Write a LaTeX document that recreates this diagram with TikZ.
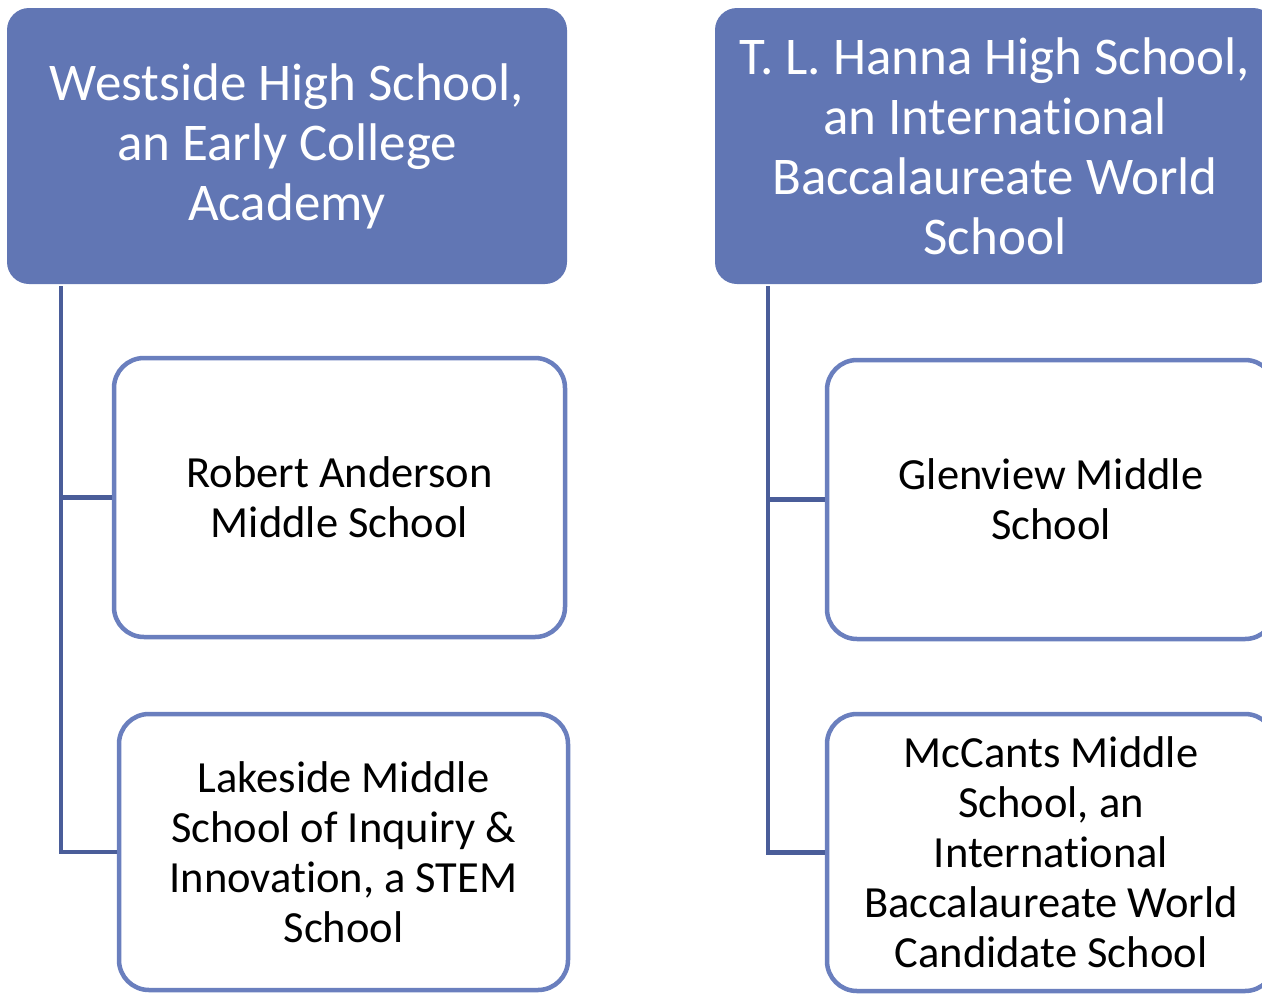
\documentclass[tikz,border=0pt]{standalone}
\usepackage{fontspec}
\setmainfont{Carlito}[Ligatures=NoCommon]
\definecolor{headfill}{RGB}{97,118,180}
\definecolor{boxline}{RGB}{106,127,190}
\definecolor{conn}{RGB}{74,93,153}
\begin{document}
\begin{tikzpicture}[x=1pt,y=-1pt,
  head/.style={rectangle, rounded corners=22pt, fill=headfill, draw=none,
    text=white, align=center, inner sep=0pt,
    font=\fontsize{53}{60}\selectfont},
  child/.style={rectangle, rounded corners=30pt, fill=white, draw=boxline,
    line width=4.5pt, text=black, align=center, inner sep=0pt,
    font=\fontsize{44.5}{50}\selectfont},
  link/.style={draw=conn, line width=4.5pt}]
\useasboundingbox (0,0) rectangle (1262,994);
% left tree
\node[head, minimum width=560pt, minimum height=276pt] (wh) at (287,146)
  {\raisebox{-3pt}{}Westside High School,\\an Early College\\Academy};
\node[child, minimum width=451pt, minimum height=279pt] (ra) at (339.5,497.5)
  {Robert Anderson\\Middle School};
\node[child, minimum width=449pt, minimum height=276pt] (lk) at (343.5,852)
  {Lakeside Middle\\School of Inquiry \&\\Innovation, a STEM\\School};
\coordinate (wtop) at (61,286);
\draw[link] (wtop) |- (ra.west);
\draw[link] (wtop) |- (lk.west);
% right tree
\node[head, minimum width=560pt, minimum height=276pt] (th) at (995,146)
  {T. L. Hanna High School,\\an International\\Baccalaureate World\\School};
\node[child, minimum width=448pt, minimum height=279pt] (gv) at (1051,499.5)
  {Glenview Middle\\School};
\node[child, minimum width=448pt, minimum height=277pt] (mc) at (1051,852.5)
  {McCants Middle\\School, an\\International\\Baccalaureate World\\Candidate School};
\coordinate (ttop) at (768,286);
\draw[link] (ttop) |- (gv.west);
\draw[link] (ttop) |- (mc.west);
\end{tikzpicture}
\end{document}
